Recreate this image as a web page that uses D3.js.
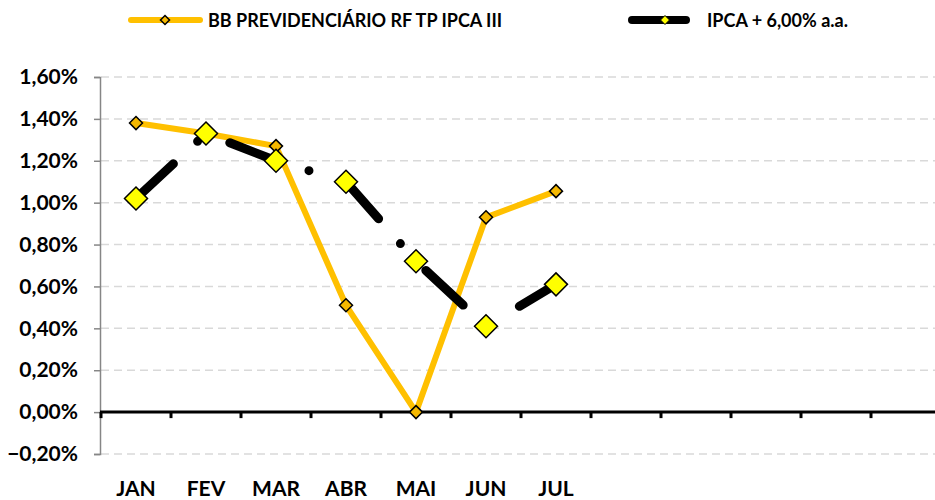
<!DOCTYPE html>
<html>
<head>
<meta charset="utf-8">
<script src="https://cdn.jsdelivr.net/npm/d3@7"></script>
<style>
  body { margin: 0; background: #fff; }
  text { font-family: Lato, "Open Sans", sans-serif; font-weight: 700; fill: #000; }
</style>
</head>
<body>
<script>
// 12 category slots, only the first 7 carry labels
var monthLabels = ["JAN", "FEV", "MAR", "ABR", "MAI", "JUN", "JUL", "", "", "", "", ""]
var fundName = "BB PREVIDENCIÁRIO RF TP IPCA III"
var benchName = "IPCA + 6,00% a.a."
// monthly returns, %
var fundValues = [1.38, 1.33, 1.27, 0.51, 0.00, 0.93, 1.055]
var benchValues = [1.02, 1.33, 1.20, 1.10, 0.72, 0.41, 0.61]
var yTicks = [-0.2, 0, 0.2, 0.4, 0.6, 0.8, 1.0, 1.2, 1.4, 1.6]

var width = 935, height = 500
var margin = {top: 77, right: -6, bottom: 46, left: 101}

var svg = d3.select("body").append("svg")
    .attr("width", width)
    .attr("height", height)

var x = d3.scaleBand()
    .domain(d3.range(monthLabels.length))
    .range([margin.left, width - margin.right])

var y = d3.scaleLinear()
    .domain([-0.2, 1.6])
    .range([height - margin.bottom, margin.top])

var fmt = function(v) { return d3.format(".2f")(v).replace(".", ",") + "%" }

// gridlines
svg.append("g")
    .selectAll("line")
    .data(yTicks.filter(function(d) { return d !== 0 }))
    .join("line")
    .attr("x1", margin.left).attr("x2", width)
    .attr("y1", function(d) { return y(d) }).attr("y2", function(d) { return y(d) })
    .attr("stroke", "#d9d9d9")
    .attr("stroke-width", 1.5)
    .attr("stroke-dasharray", "8,5")

// y axis
var yAxis = d3.axisLeft(y).tickValues(yTicks).tickSize(6).tickPadding(16).tickFormat(fmt)
var yg = svg.append("g")
    .attr("transform", "translate(" + (margin.left - 1) + ",0)")
    .call(yAxis)
yg.select(".domain").attr("stroke", "#868686").attr("stroke-width", 1.5)
yg.selectAll(".tick line").attr("stroke", "#868686").attr("stroke-width", 1.5)
yg.selectAll(".tick text").style("font-size", "21px")

// zero line with category ticks
var xAxis = d3.axisBottom(x).tickSize(0).tickFormat(function(i) { return monthLabels[i] })
var xg = svg.append("g")
    .attr("transform", "translate(0," + y(0) + ")")
    .call(xAxis)
xg.select(".domain").remove()
xg.selectAll(".tick text")
    .attr("y", 84)
    .attr("dy", 0)
    .style("font-size", "21px")

svg.append("line")
    .attr("x1", margin.left - 1).attr("x2", width)
    .attr("y1", y(0)).attr("y2", y(0))
    .attr("stroke", "#000").attr("stroke-width", 3)

svg.append("g")
    .selectAll("line")
    .data(d3.range(monthLabels.length))
    .join("line")
    .attr("x1", function(i) { return x(i) }).attr("x2", function(i) { return x(i) })
    .attr("y1", y(0)).attr("y2", y(0) + 6)
    .attr("stroke", "#000").attr("stroke-width", 3)

var cx = function(d, i) { return x(i) + x.bandwidth() / 2 }

function diamond(r) {
  return "M0," + (-r) + "L" + r + ",0L0," + r + "L" + (-r) + ",0Z"
}

// fund series
svg.append("path")
    .datum(fundValues)
    .attr("fill", "none")
    .attr("stroke", "#ffc000")
    .attr("stroke-width", 6)
    .attr("stroke-linejoin", "round")
    .attr("d", d3.line().x(cx).y(function(d) { return y(d) }))

svg.append("g")
    .selectAll("path")
    .data(fundValues)
    .join("path")
    .attr("transform", function(d, i) { return "translate(" + cx(d, i) + "," + y(d) + ")" })
    .attr("d", diamond(6.5))
    .attr("fill", "#f5b800")
    .attr("stroke", "#000")
    .attr("stroke-width", 1.5)

// benchmark series (long dash dot)
svg.append("path")
    .datum(benchValues)
    .attr("fill", "none")
    .attr("stroke", "#000")
    .attr("stroke-width", 9)
    .attr("stroke-linecap", "round")
    .attr("stroke-dasharray", "51,33,0,37")
    .attr("d", d3.line().x(cx).y(function(d) { return y(d) }))

svg.append("g")
    .selectAll("path")
    .data(benchValues)
    .join("path")
    .attr("transform", function(d, i) { return "translate(" + cx(d, i) + "," + y(d) + ")" })
    .attr("d", diamond(11.5))
    .attr("fill", "#ffff00")
    .attr("stroke", "#000")
    .attr("stroke-width", 1.5)

// legend
var lg = svg.append("g")
lg.append("line")
    .attr("x1", 131).attr("x2", 200).attr("y1", 20).attr("y2", 20)
    .attr("stroke", "#ffc000").attr("stroke-width", 6).attr("stroke-linecap", "round")
lg.append("path")
    .attr("transform", "translate(165,20)")
    .attr("d", diamond(4.5))
    .attr("fill", "#f5b800").attr("stroke", "#000").attr("stroke-width", 1.5)
lg.append("text")
    .attr("x", 208).attr("y", 27)
    .style("font-size", "18px")
    .text(fundName)

lg.append("line")
    .attr("x1", 632).attr("x2", 686).attr("y1", 20).attr("y2", 20)
    .attr("stroke", "#000").attr("stroke-width", 8).attr("stroke-linecap", "round")
lg.append("path")
    .attr("transform", "translate(665,20)")
    .attr("d", diamond(4.5))
    .attr("fill", "#ffff00").attr("stroke", "#000").attr("stroke-width", 1)
lg.append("text")
    .attr("x", 707).attr("y", 27)
    .style("font-size", "18px")
    .text(benchName)
</script>
</body>
</html>
